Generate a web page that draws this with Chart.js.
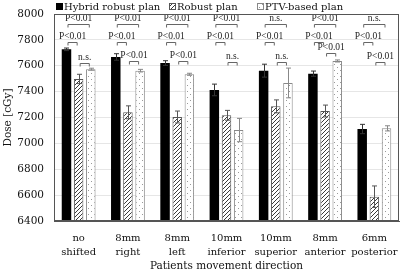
<!DOCTYPE html>
<html>
<head>
<meta charset="utf-8">
<script src="https://cdn.jsdelivr.net/npm/chart.js@4.4.0/dist/chart.umd.min.js"></script>
<style>
html,body{margin:0;padding:0;background:#fff;}
#wrap{width:403px;height:274px;}
</style>
</head>
<body>
<div id="wrap"><canvas id="c" width="403" height="274"></canvas></div>
<script>
// ---- data ----
const categories = [["no","shifted"],["8mm","right"],["8mm","left"],["10mm","inferior"],["10mm","superior"],["8mm","anterior"],["6mm","posterior"]];
const seriesNames = ["Hybrid robust plan","Robust plan","PTV-based plan"];
const hybrid = [7727, 7668, 7621, 7413, 7562, 7539, 7111];
const robust = [7498, 7240, 7204, 7217, 7286, 7250, 6588];
const ptv    = [7573, 7562, 7534, 7103, 7467, 7637, 7116];
const hybridErr = [10, 25, 18, 45, 50, 20, 36];
const robustErr = [36, 50, 46, 38, 50, 46, 83];
const ptvErr    = [8, 10, 8, 90, 115, 8, 20];
const yTicks = [6400, 6600, 6800, 7000, 7200, 7400, 7600, 7800, 8000];
// significance brackets
const topLabels = ["P<0.01","P<0.01","P<0.01","P<0.01","n.s.","P<0.01","n.s."];   // hybrid vs PTV
const midLabels = ["P<0.01","P<0.01","P<0.01","P<0.01","P<0.01","P<0.01","P<0.01"]; // hybrid vs robust
const lowLabels = ["n.s.","P<0.01","P<0.01","n.s.","n.s.","P<0.01","P<0.01"];      // robust vs PTV
const topLevel = 7925;
const midLevel = 7781;
const lowLevels = [7619, 7637, 7637, 7631, 7627, 7696, 7629];

const ctx = document.getElementById('c').getContext('2d');

function hatch(){
  const p = document.createElement('canvas'); p.width = 4; p.height = 4;
  const g = p.getContext('2d');
  g.fillStyle = '#fff'; g.fillRect(0,0,4,4);
  g.strokeStyle = '#3a3a3a'; g.lineWidth = 1;
  g.beginPath();
  g.moveTo(0,4); g.lineTo(4,0);
  g.moveTo(-1,1); g.lineTo(1,-1);
  g.moveTo(3,5); g.lineTo(5,3);
  g.stroke();
  return ctx.createPattern(p,'repeat');
}
function dots(){
  const p = document.createElement('canvas'); p.width = 6; p.height = 6;
  const g = p.getContext('2d');
  g.fillStyle = '#fff'; g.fillRect(0,0,6,6);
  g.fillStyle = '#9a9a9a';
  g.fillRect(1,1,1,1); g.fillRect(4,4,1,1);
  return ctx.createPattern(p,'repeat');
}

const errs = [hybridErr, robustErr, ptvErr];
const errColors = ['#333', '#555', '#888'];

const brackets = [];
for (let j = 0; j < categories.length; j++) {
  brackets.push([j, 0, 2, topLevel, topLabels[j]]);
  brackets.push([j, 0, 1, midLevel, midLabels[j]]);
  brackets.push([j, 1, 2, lowLevels[j], lowLabels[j]]);
}

const extras = {
  id: 'extras',
  afterDatasetsDraw(chart) {
    const c = chart.ctx, ys = chart.scales.y;
    c.save();
    chart.data.datasets.forEach((ds, i) => {
      const meta = chart.getDatasetMeta(i);
      meta.data.forEach((bar, j) => {
        const v = ds.data[j], e = errs[i][j];
        const x = Math.round(bar.x) + 0.5;
        const y1 = ys.getPixelForValue(v + e), y2 = ys.getPixelForValue(v - e);
        c.strokeStyle = errColors[i]; c.lineWidth = 1;
        c.beginPath();
        c.moveTo(x, y1); c.lineTo(x, y2);
        c.moveTo(x - 2.5, y1); c.lineTo(x + 2.5, y1);
        c.moveTo(x - 2.5, y2); c.lineTo(x + 2.5, y2);
        c.stroke();
      });
    });
    c.font = '9.5px "Liberation Serif"';
    c.textAlign = 'center'; c.textBaseline = 'middle';
    brackets.forEach(([j, a, b, lvl, lab]) => {
      const xa = chart.getDatasetMeta(a).data[j].x + 1.5;
      const xb = chart.getDatasetMeta(b).data[j].x - 1.5;
      const y = Math.round(ys.getPixelForValue(lvl)) + 0.5;
      c.strokeStyle = '#666'; c.lineWidth = 1;
      c.beginPath();
      c.moveTo(xa, y + 3); c.lineTo(xa, y); c.lineTo(xb, y); c.lineTo(xb, y + 3);
      c.stroke();
      c.fillStyle = '#222';
      c.fillText(lab, (xa + xb) / 2, y - 6);
    });
    c.restore();
  },
  afterDraw(chart) {
    const a = chart.chartArea, c = chart.ctx;
    c.save();
    c.strokeStyle = '#555'; c.lineWidth = 1;
    c.strokeRect(Math.round(a.left) + 0.5, Math.round(a.top) + 0.5, Math.round(a.right - a.left) - 1, Math.round(a.bottom - a.top) - 1);
    // legend (drawn from the datasets)
    const boxX = [56, 169, 257];
    c.font = '10px "DejaVu Serif"';
    c.textAlign = 'left'; c.textBaseline = 'middle';
    chart.data.datasets.forEach((ds, i) => {
      const x = boxX[i];
      c.fillStyle = ds.backgroundColor;
      c.fillRect(x, 3, 7, 7);
      if (ds.borderWidth) {
        c.strokeStyle = ds.borderColor;
        c.strokeRect(x + 0.5, 3.5, 6, 6);
      }
      c.fillStyle = '#111';
      c.fillText(ds.label, x + 8, 7);
    });
    c.restore();
  }
};

new Chart(ctx, {
  type: 'bar',
  data: {
    labels: categories,
    datasets: [
      { label: seriesNames[0], data: hybrid, backgroundColor: '#000', borderColor: '#000', borderWidth: 0 },
      { label: seriesNames[1], data: robust, backgroundColor: hatch(), borderColor: '#555', borderWidth: 1 },
      { label: seriesNames[2], data: ptv, backgroundColor: dots(), borderColor: '#888', borderWidth: 1 }
    ]
  },
  options: {
    responsive: false,
    animation: false,
    devicePixelRatio: 1,
    categoryPercentage: 0.74,
    barPercentage: 0.78,
    layout: { padding: { left: 0, right: 4, top: 14, bottom: 0 } },
    plugins: {
      legend: { display: false },
      tooltip: { enabled: false }
    },
    scales: {
      x: {
        grid: { display: false },
        border: { color: '#555' },
        ticks: { color: '#111', padding: 3, maxRotation: 0, autoSkip: false, font: { family: '"DejaVu Serif"', size: 10, lineHeight: 1.35 } },
        title: { display: true, text: 'Patients movement direction', color: '#111', padding: { top: 0, bottom: 1 }, font: { family: '"DejaVu Serif"', size: 10.5 } },
        afterFit(s) { s.height = 53; s.paddingLeft = 0; s.paddingRight = 0; }
      },
      y: {
        min: 6400, max: 8000,
        afterBuildTicks(s) { s.ticks = yTicks.map(v => ({ value: v })); },
        grid: { color: '#e6e6e6', drawTicks: false },
        border: { color: '#555' },
        ticks: { color: '#111', padding: 10, font: { family: '"DejaVu Serif"', size: 10.5 }, callback: v => String(v) },
        title: { display: true, text: 'Dose [cGy]', color: '#111', padding: { top: 2, bottom: 0 }, font: { family: '"DejaVu Serif"', size: 10.5 } },
        afterFit(s) { s.width = 54; s.paddingTop = 0; s.paddingBottom = 0; }
      }
    }
  },
  plugins: [extras]
});
</script>
</body>
</html>
